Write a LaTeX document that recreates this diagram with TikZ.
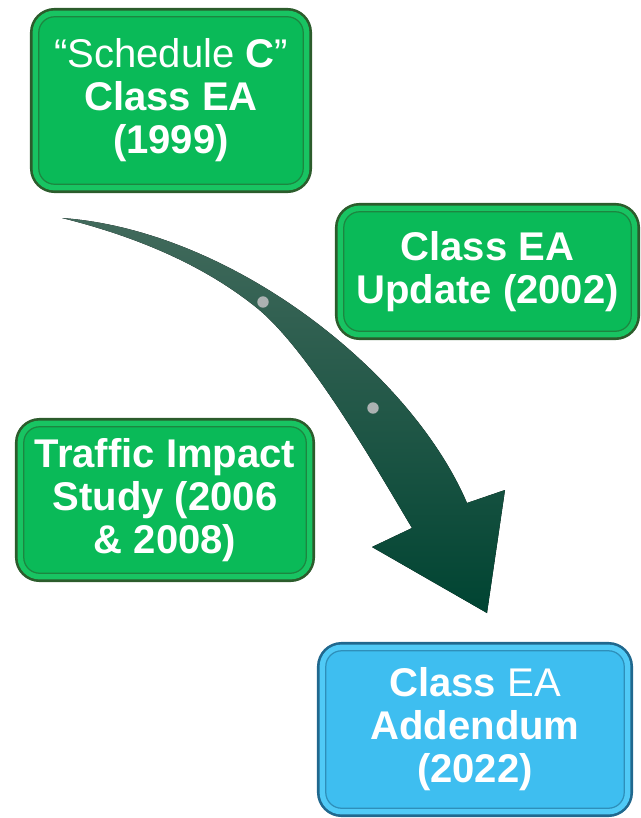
\documentclass[tikz,border=0pt]{standalone}
\usepackage{fontspec}
\setmainfont{Liberation Sans}
\usetikzlibrary{positioning}

\definecolor{boxgreen}{RGB}{10,186,88}
\definecolor{bevelgreen}{RGB}{24,196,98}
\definecolor{rimgreen}{RGB}{44,92,44}
\definecolor{boxblue}{RGB}{62,190,240}
\definecolor{bevelblue}{RGB}{80,202,246}
\definecolor{rimblue}{RGB}{32,104,142}
\definecolor{arrowtop}{RGB}{66,106,92}
\definecolor{arrowmid}{RGB}{14,78,60}
\definecolor{arrowbot}{RGB}{0,68,50}
\definecolor{dotgrey}{RGB}{172,178,178}

\begin{document}
\begin{tikzpicture}
		[x=0.02cm,y=-0.02cm,
		box/.style={shape=rectangle,rounded corners=9pt,inner sep=0pt,outer sep=0pt,
			align=center,text=white,line width=0.7pt,
			font=\fontsize{22.8}{24.5}\selectfont\bfseries},
		green box/.style={box,fill=boxgreen,draw=rimgreen!55!boxgreen,
			preaction={draw=rimgreen,line width=10pt},
			preaction={draw=bevelgreen,line width=7pt}},
		blue box/.style={box,fill=boxblue,draw=rimblue!55!boxblue,
			preaction={draw=rimblue,line width=10pt},
			preaction={draw=bevelblue,line width=7pt}},
		dot/.style={shape=circle,fill=dotgrey,inner sep=0pt,minimum size=6.5pt}
		]
		
		\useasboundingbox (0,0) rectangle (640,818);
		
		% the bent arrow
		\coordinate (tail) at (62,218);
		\coordinate (shaft r) at (467,503);
		\coordinate (head r) at (505,490);
		\coordinate (tip) at (487,613);
		\coordinate (head l) at (372,547);
		\coordinate (shaft l) at (412,528);
		\coordinate (bend l) at (257,308);
		
		\fill[top color=arrowtop,middle color=arrowmid,bottom color=arrowbot]
		(tail) .. controls (230,230) and (410,370) .. (shaft r)
		-- (head r) -- (tip) -- (head l) -- (shaft l)
		.. controls (382,478) and (310,351) .. (bend l)
		.. controls (200,262) and (130,235) .. (tail) -- cycle;
		
		\node [dot] (5) at (263,302) {};
		\node [dot] (6) at (373,408) {};
		
		% the boxes
		\node [green box,minimum width=5.29cm,minimum height=3.35cm] (1) at (171,100.5)
		{{\mdseries “Schedule }C{\mdseries ”}\\Class EA\\(1999)};
		\node [green box,minimum width=5.75cm,minimum height=2.39cm] (2) at (487.5,271.5)
		{Class EA\\Update (2002)};
		\node [green box,minimum width=5.65cm,minimum height=2.93cm] (3) at (165,500)
		{Traffic Impact\\Study (2006\\\& 2008)};
		\node [blue box,minimum width=5.97cm,minimum height=3.15cm] (4) at (475,729.5)
		{Class {\mdseries EA}\\Addendum\\(2022)};
		
\end{tikzpicture}
\end{document}
